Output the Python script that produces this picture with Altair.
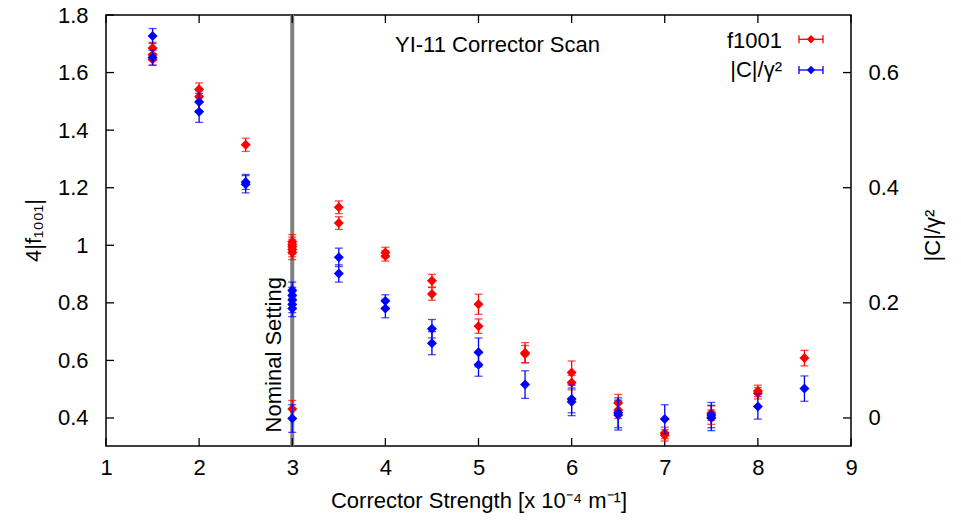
import altair as alt
import pandas as pd

# ---------------- data ----------------
red_x = [1.5, 1.5, 1.5, 2, 2, 2.5, 3, 3, 3, 3, 3, 3, 3.5, 3.5, 4, 4, 4.5, 4.5,
         5, 5, 5.5, 5.5, 6, 6, 6.5, 6.5, 7, 7, 7.5, 7.5, 8, 8, 8.5]
red_y = [1.685, 1.662, 1.645, 1.542, 1.516, 1.349, 1.012, 1.003, 0.995, 0.985, 0.975,
         0.431, 1.132, 1.077, 0.975, 0.963, 0.877, 0.831, 0.795, 0.719, 0.627, 0.622,
         0.558, 0.523, 0.452, 0.428, 0.348, 0.340, 0.417, 0.403, 0.494, 0.486, 0.608]
red_err = [0.02, 0.02, 0.02, 0.022, 0.02, 0.023, 0.025, 0.025, 0.025, 0.025, 0.025,
           0.03, 0.022, 0.022, 0.018, 0.018, 0.022, 0.022, 0.035, 0.025, 0.035, 0.03,
           0.04, 0.025, 0.03, 0.03, 0.02, 0.02, 0.025, 0.025, 0.02, 0.02, 0.027]

blue_x = [1.5, 1.5, 2, 2, 2.5, 2.5, 3, 3, 3, 3, 3, 3, 3.5, 3.5, 4, 4, 4.5, 4.5,
          5, 5, 5.5, 6, 6, 6.5, 6.5, 7, 7.5, 7.5, 8, 8.5]
blue_y = [0.6635, 0.626, 0.549, 0.532, 0.410, 0.406, 0.222, 0.213, 0.205, 0.197, 0.190,
          -0.001, 0.279, 0.251, 0.203, 0.190, 0.155, 0.130, 0.114, 0.0925, 0.058,
          0.033, 0.028, 0.009, 0.005, -0.002, 0.005, 0.0, 0.020, 0.051]
blue_err = [0.013, 0.013, 0.015, 0.0185, 0.013, 0.015, 0.014, 0.014, 0.014, 0.014, 0.014,
            0.024, 0.016, 0.015, 0.011, 0.016, 0.016, 0.02, 0.025, 0.02, 0.024,
            0.024, 0.024, 0.026, 0.026, 0.025, 0.022, 0.022, 0.022, 0.022]

x_ticks = [1, 2, 3, 4, 5, 6, 7, 8, 9]
left_ticks = [0.4, 0.6, 0.8, 1.0, 1.2, 1.4, 1.6, 1.8]
right_ticks = [0, 0.2, 0.4, 0.6]
nominal_x = [3]

X_DOMAIN = [1, 9]
LEFT_DOMAIN = [0.3027, 1.8]
RIGHT_DOMAIN = [-0.0487, 0.7]

FONT = "Liberation Sans"
FS = 22
W, H = 745, 431

red_df = pd.DataFrame({"x": red_x, "v": red_y, "e": red_err})
red_df["lo"] = red_df["v"] - red_df["e"]
red_df["hi"] = red_df["v"] + red_df["e"]
blue_df = pd.DataFrame({"x": blue_x, "v": blue_y, "e": blue_err})
blue_df["lo"] = blue_df["v"] - blue_df["e"]
blue_df["hi"] = blue_df["v"] + blue_df["e"]

x_axis = alt.Axis(values=x_ticks, format="~g", ticks=False, domain=False, grid=False,
                  labelFontSize=FS, labelPadding=11, labelFlush=False, labelOverlap=False,
                  labelColor="black", title="Corrector Strength [x 10\u207b\u2074 m\u207b\u00b9]",
                  titleFontSize=FS, titleFontWeight="normal", titleColor="black",
                  titleX=372.5, titleY=61, titleBaseline="alphabetic", titleAlign="center")
left_axis = alt.Axis(values=left_ticks, format="~g", ticks=False, domain=False, grid=False,
                     labelFontSize=FS, labelPadding=18, labelFlush=False, labelOverlap=False,
                     labelColor="black", orient="left",
                     title="4|f\u2081\u2080\u2080\u2081|", titleFontSize=FS,
                     titleFontWeight="normal", titleColor="black", titleAngle=270,
                     titleX=-73, titleY=215, titleBaseline="middle", titleAlign="center")
right_axis = alt.Axis(values=right_ticks, format="~g", ticks=False, domain=False, grid=False,
                      labelFontSize=FS, labelPadding=17, labelFlush=False, labelOverlap=False,
                      labelColor="black", orient="right",
                      title="|C|/\u03b3\u00b2", titleFontSize=FS, titleFontWeight="normal",
                      titleColor="black", titleAngle=270, titleX=81, titleY=220,
                      titleBaseline="middle", titleAlign="center")


def X(field):
    return alt.X(f"{field}:Q", scale=alt.Scale(domain=X_DOMAIN, nice=False, zero=False),
                 axis=x_axis)


def LY(field):
    return alt.Y(f"{field}:Q", scale=alt.Scale(domain=LEFT_DOMAIN, nice=False, zero=False),
                 axis=left_axis)


def RY(field):
    return alt.Y(f"{field}:Q", scale=alt.Scale(domain=RIGHT_DOMAIN, nice=False, zero=False),
                 axis=right_axis)


def series_layers(df, color, Y):
    bars = alt.Chart(df).mark_rule(color=color, strokeWidth=1.3).encode(
        x=X("x"), y=Y("lo"), y2="hi")
    cap_lo = alt.Chart(df).mark_tick(color=color, orient="horizontal", size=8,
                                     thickness=1.3).encode(x=X("x"), y=Y("lo"))
    cap_hi = alt.Chart(df).mark_tick(color=color, orient="horizontal", size=8,
                                     thickness=1.3).encode(x=X("x"), y=Y("hi"))
    pts = alt.Chart(df).mark_point(shape="diamond", filled=True, size=100, color=color,
                                   opacity=1).encode(x=X("x"), y=Y("v"))
    return [bars, cap_lo, cap_hi, pts]


one = pd.DataFrame({"a": [0]})

nominal = alt.Chart(pd.DataFrame({"x": nominal_x})).mark_rule(
    color="#808080", strokeWidth=4).encode(x=X("x"))

nominal_text = alt.Chart(pd.DataFrame({"x": nominal_x, "v": [0.35]})).mark_text(
    text="Nominal Setting", angle=270, align="left", baseline="bottom", dy=-6,
    fontSize=FS, font=FONT, color="black").encode(x=X("x"), y=LY("v"))

title_text = alt.Chart(one).mark_text(
    text="YI-11 Corrector Scan", align="center", baseline="alphabetic",
    fontSize=FS, font=FONT, color="black").encode(x=alt.value(391.5), y=alt.value(37))

xt = pd.DataFrame({"t": x_ticks})
lt = pd.DataFrame({"t": left_ticks})
rt = pd.DataFrame({"t": right_ticks})
TL = 8
tick_bottom = alt.Chart(xt).mark_rule(color="black", strokeWidth=1.3).encode(
    x=X("t"), y=alt.value(H), y2=alt.value(H - TL))
tick_top = alt.Chart(xt).mark_rule(color="black", strokeWidth=1.3).encode(
    x=X("t"), y=alt.value(0), y2=alt.value(TL))
tick_left = alt.Chart(lt).mark_rule(color="black", strokeWidth=1.3).encode(
    y=LY("t"), x=alt.value(0), x2=alt.value(TL))
tick_right = alt.Chart(rt).mark_rule(color="black", strokeWidth=1.3).encode(
    y=RY("t"), x=alt.value(W - TL), x2=alt.value(W))


def legend_entry(label, color, text_y, sym_y):
    txt = alt.Chart(one).mark_text(text=label, align="right", baseline="alphabetic",
                                   fontSize=FS, font=FONT, color="black").encode(
        x=alt.value(676), y=alt.value(text_y))
    line = alt.Chart(one).mark_rule(color=color, strokeWidth=1.3).encode(
        x=alt.value(693), x2=alt.value(717), y=alt.value(sym_y))
    c1 = alt.Chart(one).mark_rule(color=color, strokeWidth=1.3).encode(
        x=alt.value(693), y=alt.value(sym_y - 4), y2=alt.value(sym_y + 4))
    c2 = alt.Chart(one).mark_rule(color=color, strokeWidth=1.3).encode(
        x=alt.value(717), y=alt.value(sym_y - 4), y2=alt.value(sym_y + 4))
    d = alt.Chart(one).mark_point(shape="diamond", filled=True, size=70, color=color,
                                  opacity=1).encode(x=alt.value(705), y=alt.value(sym_y))
    return [txt, line, c1, c2, d]


left_layer = alt.layer(
    nominal, tick_bottom, tick_top, tick_left,
    *series_layers(red_df, "#ff0000", LY),
    nominal_text, title_text,
    *legend_entry("f1001", "#ff0000", 33, 24.3),
)
right_layer = alt.layer(
    tick_right,
    *series_layers(blue_df, "#0000ff", RY),
    *legend_entry("|C|/\u03b3\u00b2", "#0000ff", 62.3, 55),
)

chart = alt.layer(left_layer, right_layer).resolve_scale(y="independent").properties(
    width=W, height=H,
    autosize=alt.AutoSizeParams(type="none"),
    padding={"left": 106, "top": 15, "right": 110, "bottom": 74},
    background="white",
).configure(font=FONT).configure_view(stroke="black", strokeWidth=1.5)

chart.save("out.html", embed_options={"renderer": "svg", "actions": False})
